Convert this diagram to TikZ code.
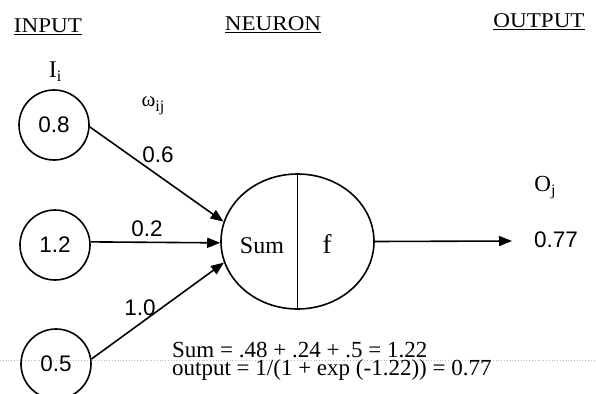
\documentclass[tikz,border=0pt]{standalone}
\usepackage{fontspec}
\setmainfont{Liberation Serif}
\newfontfamily\numfont{Liberation Sans}
\newfontfamily\titlefont[FakeStretch=1.1]{Liberation Serif}
\usetikzlibrary{arrows.meta,shapes.geometric}

\tikzset{
  unit/.style={circle,draw,line width=1.6pt,minimum size=70pt,inner sep=0pt,
    font=\numfont\fontsize{22.5}{22.5}\selectfont},
  soma/.style={ellipse,draw,line width=1.6pt,minimum width=153pt,minimum height=135pt,inner sep=0pt},
  wire/.style={line width=1.6pt,-{Triangle[length=13pt,width=10pt]}},
  numtxt/.style={inner sep=0pt,font=\numfont\fontsize{22.5}{22.5}\selectfont},
  sertxt/.style={inner sep=0pt,font=\fontsize{23}{23}\selectfont},
  title/.style={inner sep=0pt,anchor=base,font=\titlefont\fontsize{21}{21}\selectfont}
}
\newcommand{\lowsub}[2]{\raisebox{#1}{\fontsize{16}{16}\selectfont #2}}

\begin{document}
\begin{tikzpicture}[x=1pt,y=-1pt]
		\useasboundingbox (0,0) rectangle (596,393);

		% Scan line
		\draw[gray!55,dotted,line width=0.8pt] (0,360) -- (596,360);

		% Headings
		\node[title] (hin) at (48,33) {\underline{INPUT}};
		\node[title] (hneu) at (273,31) {\underline{NEURON}};
		\node[title] (hout) at (539,28) {\underline{OUTPUT}};

		% Input units
		\node[unit] (in1) at (54,125) {0.8};
		\node[unit] (in2) at (55,245) {1.2};
		\node[unit] (in3) at (56,364) {0.5};
		\node[sertxt,font=\fontsize{24}{24}\selectfont] (ii) at (55,72) {I\lowsub{-4pt}{i}};
		\node[sertxt,font=\fontsize{21}{21}\selectfont] (wij) at (153,106) {ω\lowsub{-5pt}{ij}};

		% Neuron
		\node[soma] (neuron) at (297.5,241.5) {};
		\draw[line width=1.6pt] (neuron.north) -- (neuron.south);
		\node[sertxt,font=\fontsize{24}{24}\selectfont] (sum) at (262,246) {Sum};
		\node[sertxt,font=\fontsize{27}{27}\selectfont] (fn) at (327,244) {f};

		% Weighted connections
		\draw[wire] (in1.-3) -- (neuron.165);
		\draw[wire] (in2.5) -- (neuron.181);
		\draw[wire] (in3.8) -- (neuron.196);
		\node[numtxt] (w1) at (158,155) {0.6};
		\node[numtxt] (w2) at (147,229) {0.2};
		\node[numtxt] (w3) at (140,308) {1.0};

		% Output
		\coordinate (otip) at (512,241);
		\draw[wire] (neuron.east) -- (otip);
		\node[numtxt] (oval) at (556,240) {0.77};
		\node[sertxt] (oj) at (545,188) {O\lowsub{-4pt}{j}};

		% Worked sum
		\node[sertxt,anchor=base west] (calc1) at (172,357) {Sum = .48 + .24 + .5 = 1.22};
		\node[sertxt,anchor=base west] (calc2) at (172,375) {output = 1/(1 + exp (-1.22)) = 0.77};
	\end{tikzpicture}
\end{document}
